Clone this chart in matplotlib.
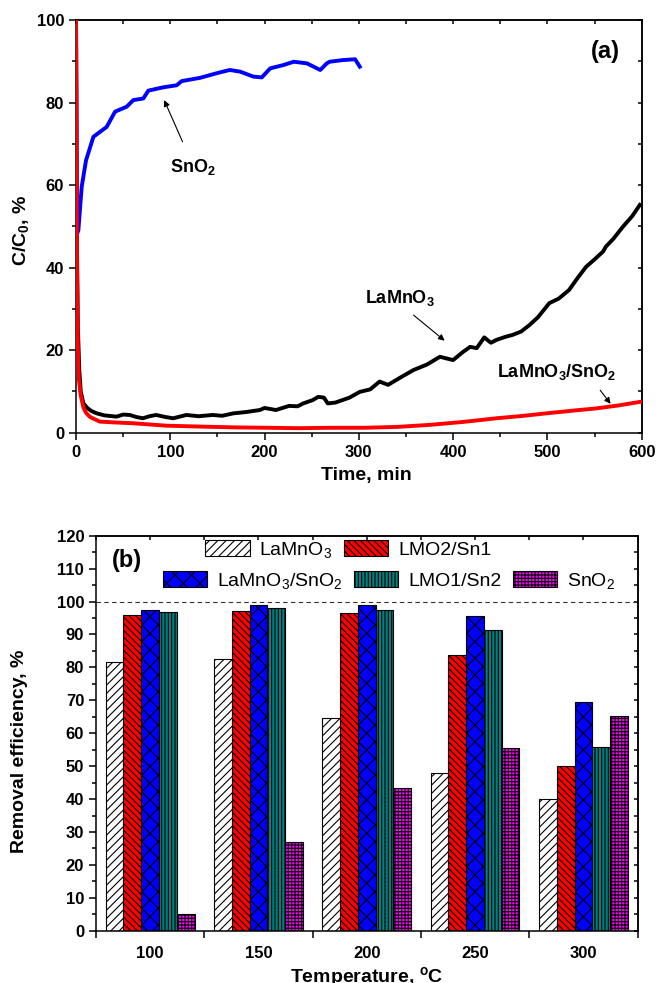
import matplotlib.pyplot as plt
from matplotlib.ticker import MultipleLocator, FixedLocator, NullFormatter
import numpy as np

plt.rcParams['font.family'] = 'Liberation Sans'
plt.rcParams['mathtext.default'] = 'regular'
plt.rcParams['hatch.linewidth'] = 0.8
plt.rcParams['axes.linewidth'] = 1.1

# ---- (a) outlet concentration vs time ----
t_sno2 = [0, 0.8, 2.5, 6, 10.6, 18.4, 25.4, 32.5, 41.4, 53.7, 60.8, 71.4, 76.7,
          92.6, 106.8, 112, 131.6, 149, 163, 174, 188, 197, 206, 220, 231, 245,
          259, 266, 269, 283, 296, 301]
c_sno2 = [100, 48, 49.1, 59.6, 66.0, 71.7, 72.9, 74.1, 77.8, 79.0, 80.6, 81.0, 82.9,
          83.7, 84.2, 85.2, 86.0, 87.1, 87.9, 87.5, 86.3, 86.1, 88.3, 89.1, 89.9, 89.5,
          87.9, 89.5, 89.9, 90.3, 90.5, 88.7]

t_lamno3 = [0, 1, 2, 3.5, 5, 7.8, 12, 16, 21.9, 30, 43, 50, 57, 64, 71, 78, 85, 95,
            103, 110, 117, 130, 145, 155, 167, 180, 195, 200, 212, 226, 235, 241,
            251, 257, 263, 267, 275, 290, 301, 312, 322, 331, 345, 358, 372, 386,
            393, 400, 410, 418, 425, 433, 440, 446, 455, 463, 472, 481, 490, 502,
            512, 523, 532, 541, 550, 559, 562, 570, 580, 590, 598]
c_lamno3 = [100, 45, 25, 15, 10, 7.1, 6.0, 5.3, 4.7, 4.2, 3.9, 4.4, 4.3, 3.8, 3.5,
            4.0, 4.3, 3.8, 3.5, 3.9, 4.3, 4.0, 4.3, 4.1, 4.7, 5.0, 5.5, 6.0, 5.5,
            6.5, 6.4, 7.1, 7.9, 8.7, 8.5, 7.1, 7.3, 8.5, 9.9, 10.5, 12.4, 11.6,
            13.5, 15.2, 16.5, 18.4, 18.0, 17.6, 19.5, 20.8, 20.5, 23.1, 21.8, 22.5,
            23.2, 23.7, 24.5, 26.1, 28.0, 31.4, 32.5, 34.6, 37.5, 40.2, 42.0, 43.9,
            45.1, 47.0, 49.9, 52.5, 55.2]

t_composite = [0, 1, 2, 3, 5, 8, 11, 15, 25, 40, 60, 96, 130, 167, 237, 269, 305,
               340, 375, 410, 446, 475, 499, 525, 552, 575, 599]
c_composite = [100, 40, 20, 13, 9, 6, 4.7, 3.8, 2.7, 2.5, 2.3, 1.7, 1.5, 1.3, 1.1,
               1.2, 1.2, 1.4, 1.9, 2.6, 3.5, 4.1, 4.7, 5.3, 5.9, 6.6, 7.5]

# ---- (b) removal efficiency vs temperature ----
temperatures = [100, 150, 200, 250, 300]
eff_lamno3 = [81.7, 82.7, 64.5, 47.8, 40.0]
eff_lmo2_sn1 = [95.8, 97.0, 96.6, 83.7, 49.9]
eff_lamno3_sno2 = [97.3, 99.1, 98.9, 95.6, 69.6]
eff_lmo1_sn2 = [96.7, 98.0, 97.3, 91.3, 55.7]
eff_sno2 = [5.1, 26.9, 43.3, 55.4, 65.2]

fig = plt.figure(figsize=(6.56, 9.83), dpi=100)
ax1 = fig.add_axes([0.1159, 0.5598, 0.8623, 0.4198])
ax2 = fig.add_axes([0.1463, 0.0532, 0.8256, 0.4018])

bold = dict(fontweight='bold')

# top panel
ax1.plot(t_sno2, c_sno2, color='#0000ff', lw=2.8, zorder=3)
ax1.plot(t_lamno3, c_lamno3, color='black', lw=2.8, zorder=2)
ax1.plot(t_composite, c_composite, color='#ff0000', lw=2.8, zorder=4)
ax1.set_xlim(0, 600)
ax1.set_ylim(0, 100)
ax1.xaxis.set_major_locator(MultipleLocator(100))
ax1.xaxis.set_minor_locator(MultipleLocator(50))
ax1.yaxis.set_major_locator(MultipleLocator(20))
ax1.yaxis.set_minor_locator(MultipleLocator(10))
ax1.tick_params(which='major', direction='out', length=5, width=1.1, labelsize=12)
ax1.tick_params(which='minor', direction='out', length=3, width=1.1)
for lab in ax1.get_xticklabels() + ax1.get_yticklabels():
    lab.set_fontweight('bold')
ax1.set_xlabel('Time, min', fontsize=14, **bold)
ax1.set_ylabel('C/C$_0$, %', fontsize=14, **bold)
ax1.xaxis.set_label_coords(0.514, -0.082)
ax1.yaxis.set_label_coords(-0.08, 0.49)

top1 = ax1.secondary_xaxis('top')
top1.xaxis.set_major_locator(MultipleLocator(50))
top1.tick_params(direction='in', length=3, width=1.1)
top1.xaxis.set_major_formatter(NullFormatter())
right1 = ax1.secondary_yaxis('right')
right1.yaxis.set_major_locator(MultipleLocator(10))
right1.tick_params(direction='in', length=3, width=1.1)
right1.yaxis.set_major_formatter(NullFormatter())

arrow = dict(arrowstyle='-|>', color='black', lw=0.8, mutation_scale=9,
             shrinkA=0, shrinkB=0)
ax1.text(124, 64.5, 'SnO$_2$', fontsize=13, ha='center', va='center', **bold)
ax1.annotate('', xy=(93.5, 80.6), xytext=(113, 70.5), arrowprops=arrow)
ax1.text(343, 32.6, 'LaMnO$_3$', fontsize=13, ha='center', va='center', **bold)
ax1.annotate('', xy=(391, 22.3), xytext=(358, 28.5), arrowprops=arrow)
ax1.text(510, 14.7, 'LaMnO$_3$/SnO$_2$', fontsize=13, ha='center', va='center', **bold)
ax1.annotate('', xy=(567, 7.0), xytext=(556, 10.3), arrowprops=arrow)
ax1.text(561, 92.5, '(a)', fontsize=17, ha='center', va='center', **bold)

# bottom panel
width = 8.2
series = [
    ('LaMnO$_3$', eff_lamno3, 'white', '////'),
    ('LMO2/Sn1', eff_lmo2_sn1, '#ff0000', '\\\\\\\\\\'),
    ('LaMnO$_3$/SnO$_2$', eff_lamno3_sno2, '#0000ff', 'xx'),
    ('LMO1/Sn2', eff_lmo1_sn2, '#008080', '|||||'),
    ('SnO$_2$', eff_sno2, '#ff00ff', '+++++'),
]
x = np.array(temperatures, dtype=float)
bars = []
for i, (name, vals, color, hatch) in enumerate(series):
    b = ax2.bar(x + (i - 2) * width, vals, width, color=color, edgecolor='black',
                linewidth=0.8, hatch=hatch, label=name, zorder=2)
    bars.append(b)

ax2.axhline(100, color='#333333', lw=0.8, ls=(0, (4, 3)), zorder=1)
ax2.set_xlim(75, 325)
ax2.set_ylim(0, 120)
ax2.xaxis.set_major_locator(FixedLocator(temperatures))
ax2.xaxis.set_minor_locator(MultipleLocator(50, offset=25))
ax2.yaxis.set_major_locator(MultipleLocator(10))
ax2.yaxis.set_minor_locator(MultipleLocator(5))
ax2.tick_params(axis='x', which='major', length=0, pad=11, labelsize=12)
ax2.tick_params(axis='x', which='minor', direction='out', length=5, width=1.1)
ax2.tick_params(axis='y', which='major', direction='out', length=5, width=1.1,
                labelsize=12)
ax2.tick_params(axis='y', which='minor', direction='out', length=3, width=1.1)
for lab in ax2.get_xticklabels() + ax2.get_yticklabels():
    lab.set_fontweight('bold')
ax2.set_xlabel('Temperature, $^{o}$C', fontsize=14, **bold)
ax2.set_ylabel('Removal efficiency, %', fontsize=14, **bold)
ax2.xaxis.set_label_coords(0.5, -0.086)
ax2.yaxis.set_label_coords(-0.125, 0.455)

top2 = ax2.secondary_xaxis('top')
top2.xaxis.set_major_locator(MultipleLocator(25))
top2.tick_params(direction='in', length=3, width=1.1)
top2.xaxis.set_major_formatter(NullFormatter())
right2 = ax2.secondary_yaxis('right')
right2.yaxis.set_major_locator(MultipleLocator(5))
right2.tick_params(direction='in', length=3, width=1.1)
right2.yaxis.set_major_formatter(NullFormatter())

ax2.text(0.057, 0.938, '(b)', transform=ax2.transAxes, fontsize=17,
         ha='center', va='center', **bold)

leg_kw = dict(frameon=False, fontsize=14, handlelength=2.27, handleheight=0.88,
              handletextpad=0.5, columnspacing=0.6, borderpad=0, borderaxespad=0,
              loc='center')
leg1 = ax2.legend(handles=bars[:2], ncol=2, bbox_to_anchor=(0.466, 0.964), **leg_kw)
ax2.add_artist(leg1)
ax2.legend(handles=bars[2:], ncol=3, bbox_to_anchor=(0.541, 0.885), **leg_kw)

fig.savefig('out.png', dpi=100)
